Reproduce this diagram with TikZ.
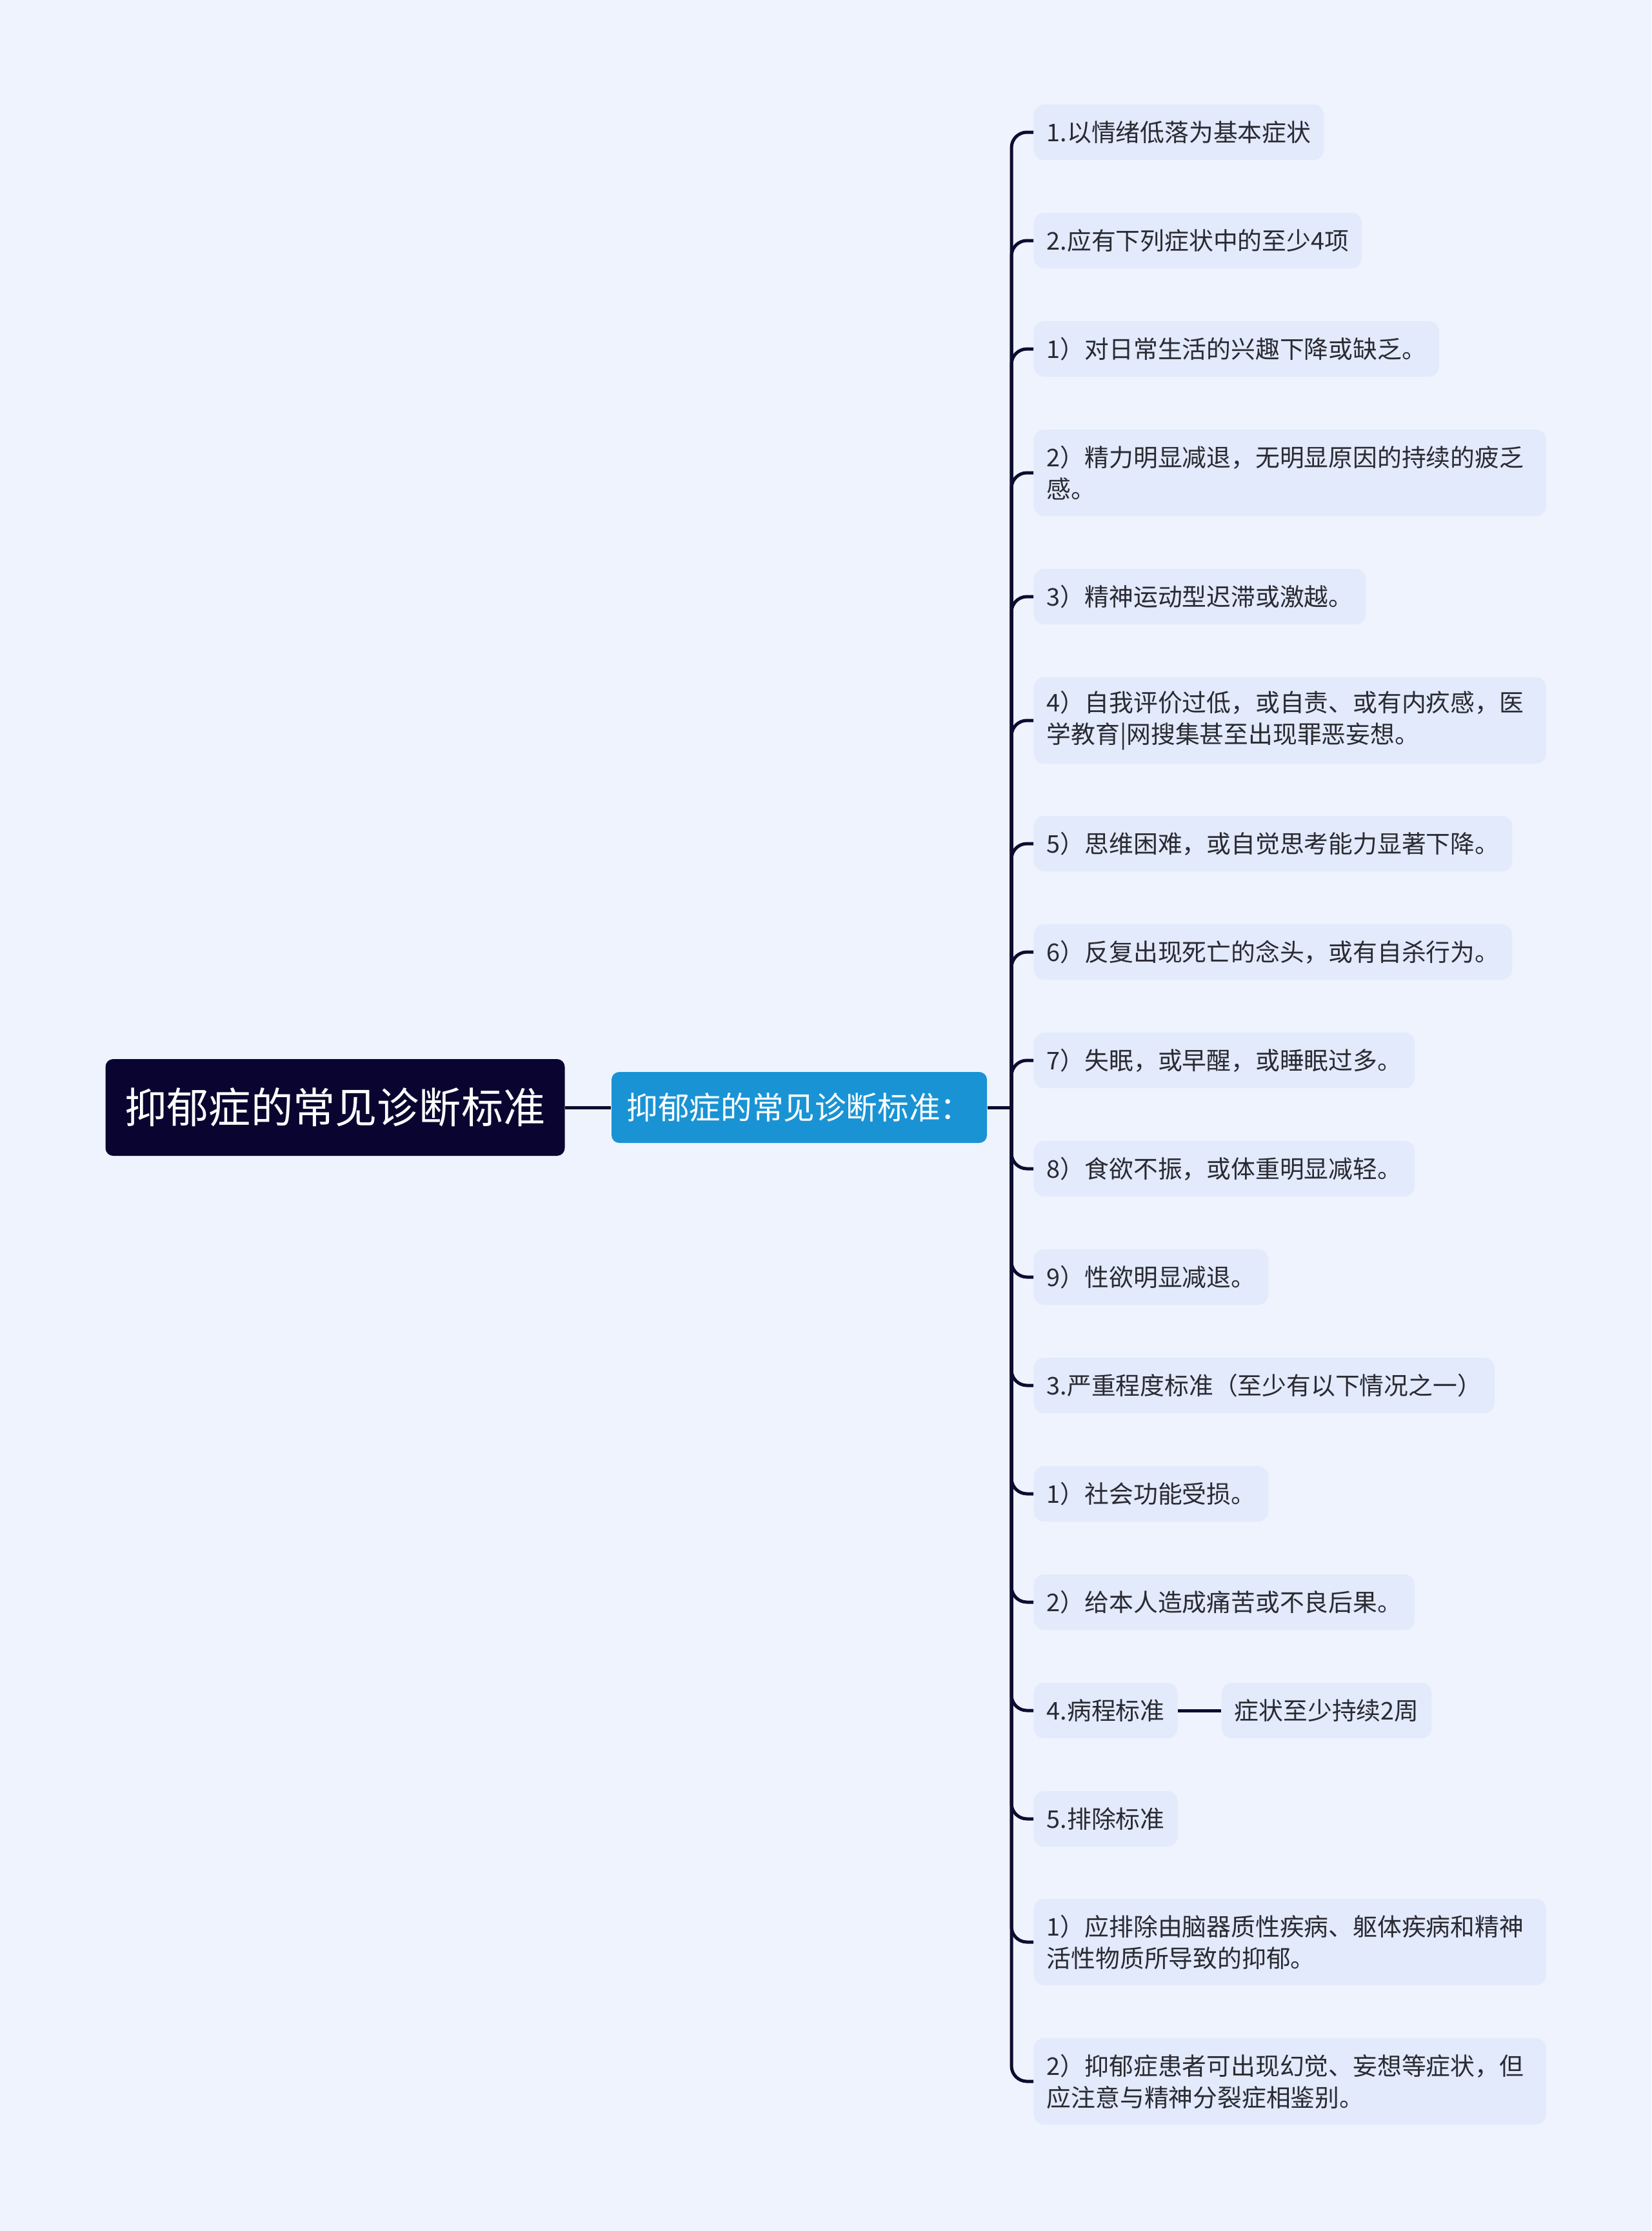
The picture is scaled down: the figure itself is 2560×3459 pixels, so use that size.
\documentclass[tikz,border=0pt]{standalone}
\usepackage{fontspec}
\setmainfont{Noto Sans CJK SC}
\usepackage{xcolor}
\usetikzlibrary{positioning}

\definecolor{bgcol}{HTML}{EEF3FE}
\definecolor{leafcol}{HTML}{E2EAFB}
\definecolor{rootcol}{HTML}{0A0530}
\definecolor{midcol}{HTML}{1A93D4}
\definecolor{linecol}{HTML}{0F0B30}
\definecolor{txtcol}{HTML}{2A2A33}

\tikzset{
  rootbox/.style={fill=rootcol, text=white, rounded corners=3pt,
    minimum width=178pt, minimum height=37.5pt, inner sep=0pt,
    font=\fontsize{16.3}{20}\selectfont},
  midbox/.style={fill=midcol, text=white, rounded corners=3pt,
    minimum width=145.5pt, minimum height=27.5pt, inner sep=0pt,
    font=\fontsize{12.15}{15}\selectfont},
  leaf/.style={fill=leafcol, text=txtcol, rounded corners=4pt,
    anchor=west, align=left, inner xsep=5pt, inner ysep=0pt,
    minimum height=21.5pt, font=\fontsize{9.45}{12.25}\selectfont},
  leaftwo/.style={leaf, minimum height=33.5pt, text width=188.5pt},
  conn/.style={draw=linecol, line width=1.25pt},
  branch/.style={conn, rounded corners=6pt},
}

\begin{document}
\begin{tikzpicture}[x=0.25pt, y=-0.25pt]
  % Latar
  \fill[bgcol] (0,0) rectangle (2560,3459);
  \useasboundingbox (0,0) rectangle (2560,3459);

  % Pusat
  \node[rootbox] (root) at (519.5,1717) {抑郁症的常见诊断标准};
  \node[midbox] (mid) at (1239,1717) {抑郁症的常见诊断标准：};
  \coordinate (trunk) at (1568,1717);

  % Cabang
  \node[leaf] (c1) at (1602,205) {1.以情绪低落为基本症状};
  \node[leaf] (c2) at (1602,373) {2.应有下列症状中的至少4项};
  \node[leaf] (c3) at (1602,541) {1）对日常生活的兴趣下降或缺乏。};
  \node[leaftwo] (c4) at (1602,733) {2）精力明显减退，无明显原因的持续的疲乏\\感。};
  \node[leaf] (c5) at (1602,925) {3）精神运动型迟滞或激越。};
  \node[leaftwo] (c6) at (1602,1117) {4）自我评价过低，或自责、或有内疚感，医\\学教育|网搜集甚至出现罪恶妄想。};
  \node[leaf] (c7) at (1602,1308) {5）思维困难，或自觉思考能力显著下降。};
  \node[leaf] (c8) at (1602,1476) {6）反复出现死亡的念头，或有自杀行为。};
  \node[leaf] (c9) at (1602,1644) {7）失眠，或早醒，或睡眠过多。};
  \node[leaf] (c10) at (1602,1812) {8）食欲不振，或体重明显减轻。};
  \node[leaf] (c11) at (1602,1980) {9）性欲明显减退。};
  \node[leaf] (c12) at (1602,2148) {3.严重程度标准（至少有以下情况之一）};
  \node[leaf] (c13) at (1602,2316) {1）社会功能受损。};
  \node[leaf] (c14) at (1602,2484) {2）给本人造成痛苦或不良后果。};
  \node[leaf] (c15) at (1602,2652) {4.病程标准};
  \node[leaf] (c15a) at (1893,2652) {症状至少持续2周};
  \node[leaf] (c16) at (1602,2820) {5.排除标准};
  \node[leaftwo] (c17) at (1602,3011) {1）应排除由脑器质性疾病、躯体疾病和精神\\活性物质所导致的抑郁。};
  \node[leaftwo] (c18) at (1602,3227) {2）抑郁症患者可出现幻觉、妄想等症状，但\\应注意与精神分裂症相鉴别。};

  % Garis
  \draw[conn] (root) -- (mid);
  \draw[conn] (mid.east) -- (trunk);
  \foreach \i in {1,...,18} {
    \draw[branch] (trunk) |- (c\i.west);
  }
  \draw[conn] (c15) -- (c15a);
\end{tikzpicture}
\end{document}
